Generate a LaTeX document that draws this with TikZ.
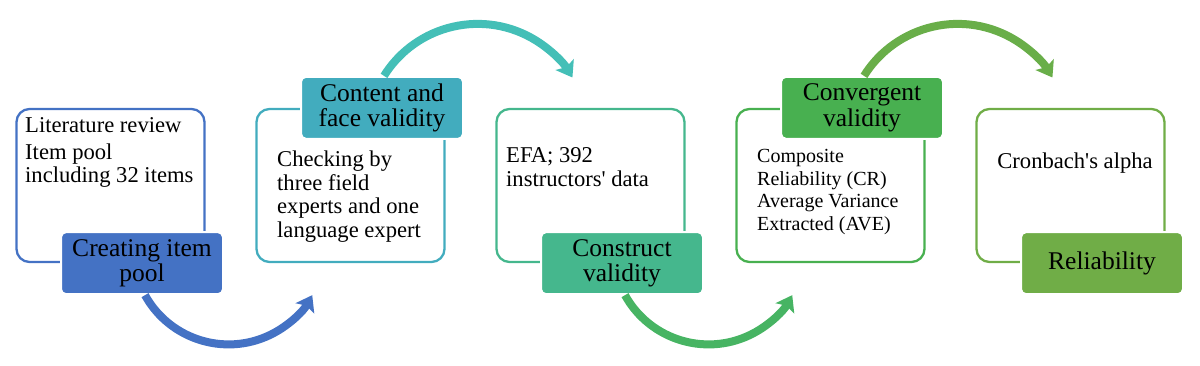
\documentclass[tikz,border=0pt]{standalone}
\usepackage{fontspec}
\setmainfont{Liberation Serif}
\usetikzlibrary{arrows.meta}
\definecolor{cA}{HTML}{4472C4}
\definecolor{cB}{HTML}{42ACBE}
\definecolor{cBarr}{HTML}{44BFB7}
\definecolor{cC}{HTML}{45B78D}
\definecolor{cCarr}{HTML}{47B463}
\definecolor{cD}{HTML}{48B050}
\definecolor{cDarr}{HTML}{69AE49}
\definecolor{cE}{HTML}{70AD47}
\begin{document}
\begin{tikzpicture}[x=1pt,y=1pt,
  outl/.style={draw, line width=2.3pt, rounded corners=13pt, minimum width=188pt, minimum height=153pt, inner sep=0pt},
  lab/.style={draw=white, line width=2pt, rounded corners=5pt, minimum width=162pt, minimum height=62pt, inner sep=0pt, align=center, text=black, font=\fontsize{25.5}{25.5}\selectfont},
  body/.style={anchor=base west, inner sep=0pt, font=\fontsize{22.6}{23.5}\selectfont},
  small/.style={anchor=base west, inner sep=0pt, font=\fontsize{20}{22.5}\selectfont},
  arr/.style={line width=8pt, -{Stealth[length=15pt,width=21pt,inset=3pt]}}
]
\useasboundingbox (0,0) rectangle (1200,-366);
% outline boxes
\node[outl, draw=cA] (box1) at (110.5,-185.5) {};
\node[outl, draw=cB] (box2) at (350.5,-185.5) {};
\node[outl, draw=cC] (box3) at (590.5,-185.5) {};
\node[outl, draw=cD] (box4) at (830.5,-185.5) {};
\node[outl, draw=cE] (box5) at (1070.5,-185.5) {};
% body texts
\node[body] (t1) at (25,-133) {\begin{tabular}[t]{@{}l@{}}Literature review\\[3pt]Item pool\\including 32 items\end{tabular}};
\node[body] (t2) at (277,-167) {\begin{tabular}[t]{@{}l@{}}Checking by\\three field\\experts and one\\language expert\end{tabular}};
\node[body] (t3) at (506,-163) {\begin{tabular}[t]{@{}l@{}}EFA; 392\\instructors\textquotesingle{} data\end{tabular}};
\node[small] (t4) at (757,-163) {\begin{tabular}[t]{@{}l@{}}Composite\\Reliability (CR)\\Average Variance\\Extracted (AVE)\end{tabular}};
\node[body, anchor=base] (t5) at (1075,-169) {Cronbach\textquotesingle{}s alpha};
% labels
\node[lab, fill=cA, xshift=31.5pt] (lab1) at (box1.south) {Creating item\\pool};
\node[lab, fill=cB, xshift=31.5pt] (lab2) at (box2.north) {Content and\\face validity};
\node[lab, fill=cC, xshift=31.5pt] (lab3) at (box3.south) {Construct\\validity};
\node[lab, fill=cD, xshift=31.5pt] (lab4) at (box4.north) {Convergent\\validity};
\node[lab, fill=cE, xshift=31.5pt] (lab5) at (box5.south) {Reliability};
% arrows
\draw[arr, cA] ([xshift=3pt]lab1.south) arc[start angle=209, end angle=331, radius=95.6];
\draw[arr, cBarr] ([xshift=2pt]lab2.north) arc[start angle=148, end angle=31, radius=110.5];
\draw[arr, cCarr] ([xshift=3pt]lab3.south) arc[start angle=209, end angle=331, radius=95.6];
\draw[arr, cDarr] ([xshift=2pt]lab4.north) arc[start angle=148, end angle=31, radius=110.5];
\end{tikzpicture}
\end{document}
